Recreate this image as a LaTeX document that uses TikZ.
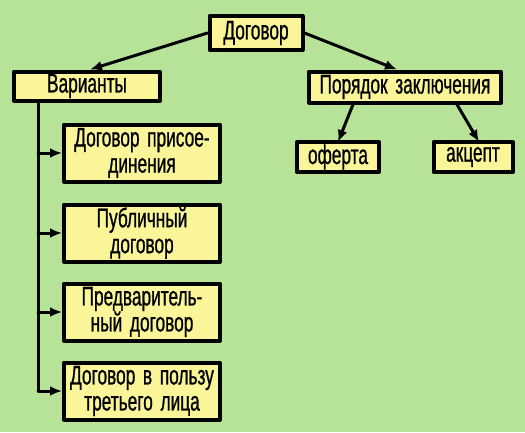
\documentclass[tikz,border=0pt]{standalone}
\usepackage{fontspec}
\setmainfont{Liberation Sans}[FakeStretch=0.64,WordSpace=1.6,FakeBold=0.8]
\usetikzlibrary{arrows.meta,positioning}
\definecolor{dgbg}{RGB}{182,227,152}
\definecolor{dgbox}{RGB}{249,245,152}
\tikzset{
  every picture/.append style={line cap=round,line join=round},
  dg box/.style={draw=black,line width=4pt,fill=dgbox,inner sep=0pt,
    font=\fontsize{27}{26}\selectfont,align=center},
  dg kind/.style={dg box,minimum width=156pt,minimum height=57pt},
  dg arrow/.style={line width=3pt,-{Latex[length=12pt,width=10pt]}}
}

\begin{document}
\begin{tikzpicture}[x=1pt,y=-1pt]
  \fill[dgbg] (0,0) rectangle (525,432);
  \useasboundingbox (0,0) rectangle (525,432);
  \node[dg box,minimum width=93pt,minimum height=34pt] (dog) at (256,33) {Договор};
  \node[dg box,minimum width=146pt,minimum height=29pt] (var) at (87,86) {Варианты};
  \node[dg box,minimum width=192pt,minimum height=31pt] (por) at (405,87) {Порядок заключения};
  \node[dg box,minimum width=82pt,minimum height=30pt] (of) at (338,157) {оферта};
  \node[dg box,minimum width=79pt,minimum height=30pt] (ak) at (473,157) {акцепт};
  \foreach \i/\y/\txt in {1/153/{Договор присое-\\динения},
                          2/233/{Публичный\\договор},
                          3/312/{Предваритель-\\ный договор},
                          4/391/{Договор в пользу\\третьего лица}}
    \node[dg kind] (v\i) at (142,\y) {\txt};
  \draw[dg arrow] (dog.west) -- ([xshift=3pt]var.north);
  \draw[dg arrow] (dog.east) -- ([xshift=-8pt]por.north);
  \draw[dg arrow] ([xshift=-52pt]por.south) -- ([yshift=-2pt]of.north);
  \draw[dg arrow] ([xshift=52pt]por.south) -- ([xshift=6pt,yshift=-2pt]ak.north);
  % trunk of the variants
  \coordinate (vtop) at ([xshift=26pt]var.south west);
  \draw[line width=3pt] (vtop) -- (vtop |- v4);
  \foreach \i in {1,...,4}
    \draw[dg arrow] (vtop |- v\i) -- (v\i.west);
\end{tikzpicture}
\end{document}
